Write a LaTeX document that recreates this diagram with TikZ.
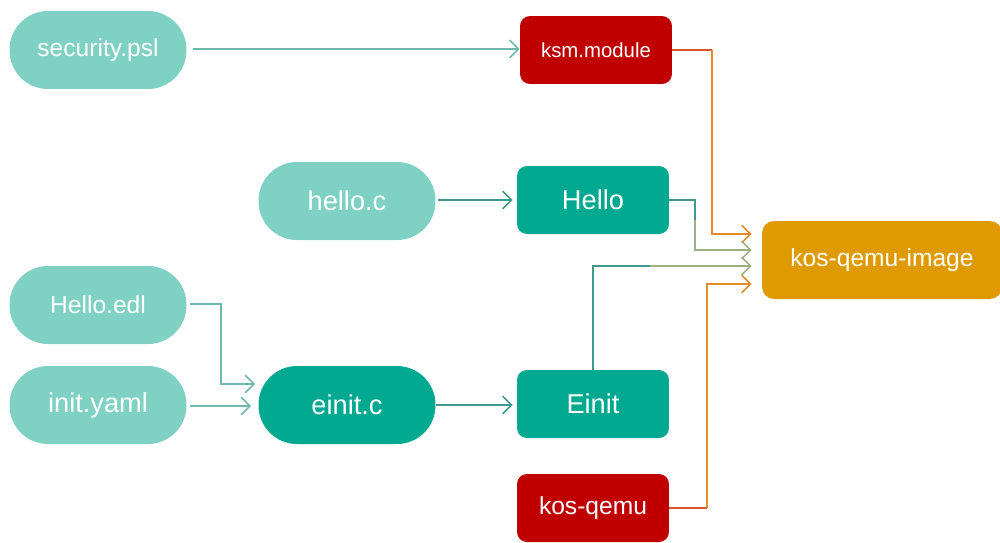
\documentclass[tikz,border=0pt]{standalone}
\usepackage{fontspec}
\setmainfont{Liberation Sans}
\usetikzlibrary{arrows.meta,calc}
\definecolor{lteal}{HTML}{7FD1C3}
\definecolor{dteal}{HTML}{00A98F}
\definecolor{kred}{HTML}{C00000}
\definecolor{korange}{HTML}{DF9A00}
\definecolor{lline}{HTML}{6FB8AE}
\definecolor{dline}{HTML}{3F9A8E}
\definecolor{oline}{HTML}{E58A2A}
\definecolor{rline}{HTML}{D9552A}
\definecolor{mline}{HTML}{9FB080}
\tikzset{
  pill/.style={draw=none, text=white, minimum width=3.54cm, minimum height=1.56cm, rounded corners=0.77cm, inner sep=0pt},
  srcpill/.style={pill, fill=lteal},
  genpill/.style={pill, fill=dteal},
  rbox/.style={draw=none, text=white, minimum width=3.04cm, minimum height=1.36cm, rounded corners=0.2cm, inner sep=0pt},
  tbox/.style={rbox, fill=dteal},
  redbox/.style={rbox, fill=kred},
  conn/.style={line width=0.7pt, -{Straight Barb[length=5pt,width=10pt,line width=0.9pt]}},
  fA/.style={font=\fontsize{14}{16}\selectfont},
  fB/.style={font=\fontsize{15.5}{18}\selectfont},
  fC/.style={font=\fontsize{11.6}{14}\selectfont},
}
\begin{document}
\begin{tikzpicture}[x=0.02cm,y=-0.02cm]
\useasboundingbox (0,0) rectangle (1000,542);
\node[srcpill,fA] (sec) at (98,50) {security.psl};
\node[srcpill,fB] (helloc) at (347,201) {hello.c};
\node[srcpill,fA] (edl) at (98,305) {Hello.edl};
\node[srcpill,fB] (yaml) at (98,405) {init.yaml};
\node[genpill,fB] (einitc) at (347,405) {einit.c};
\node[redbox,fC] (ksm) at (596,50) {ksm.module};
\node[tbox,fB] (hello) at (593,200) {Hello};
\node[tbox,fB] (einit) at (593,404) {Einit};
\node[redbox,fA] (kq) at (593,508) {kos-qemu};
\node[draw=none, fill=korange, text=white, minimum width=4.8cm, minimum height=1.56cm, rounded corners=0.24cm, inner sep=0pt, fA] (img) at (882,260) {kos-qemu-image};

\draw[conn, lline] ($(sec.east)+(6,-1)$) -- ($(ksm.west)+(0,-1)$);
\draw[conn, dline] ($(helloc.east)+(2,-1)$) -- ($(hello.west)+(-4,0)$);
\draw[conn, lline] ($(edl.east)+(3,-1)$) -| (221,384) -- ($(einitc.west)+(-3,-21)$);
\draw[conn, lline] ($(yaml.east)+(3,1)$) -- ($(einitc.west)+(-7,1)$);
\draw[conn, dline] (einitc.east) -- ($(einit.west)+(-4,1)$);

\coordinate (k1) at ($(ksm.east -| 712,0)$);
\coordinate (h1) at (695,220);
\coordinate (e1) at (650,266);
\coordinate (q1) at ($(kq.east -| 707,0)$);
\draw[rline, line width=0.7pt] (ksm.east) -- (k1);
\draw[conn, oline] (k1) |- ($(img.west)+(-10,-26)$);
\draw[dline, line width=0.7pt] (hello.east) -| (h1);
\draw[conn, mline] (h1) |- ($(img.west)+(-10,-10)$);
\draw[dline, line width=0.7pt] (einit.north) |- (e1);
\draw[conn, mline] (e1) -- ($(img.west)+(-10,6)$);
\draw[rline, line width=0.7pt] (kq.east) -- (q1);
\draw[conn, oline] (q1) |- ($(img.west)+(-10,24)$);
\end{tikzpicture}
\end{document}
